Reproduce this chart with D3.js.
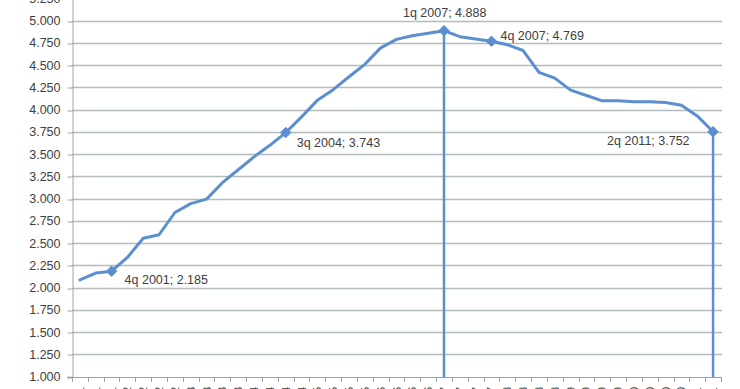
<!DOCTYPE html>
<html>
<head>
<meta charset="utf-8">
<script src="https://cdn.jsdelivr.net/npm/d3@7"></script>
<style>
  body { margin: 0; background: #fff; }
  #chart { width: 740px; height: 389px; overflow: hidden; }
  text { font-family: "Liberation Sans", Arial, sans-serif; fill: #404040; }
</style>
</head>
<body>
<div id="chart"></div>
<script>
// quarters, 2q 2001 .. 2q 2011
const quarters = [
  "2q 2001", "3q 2001", "4q 2001",
  "1q 2002", "2q 2002", "3q 2002", "4q 2002",
  "1q 2003", "2q 2003", "3q 2003", "4q 2003",
  "1q 2004", "2q 2004", "3q 2004", "4q 2004",
  "1q 2005", "2q 2005", "3q 2005", "4q 2005",
  "1q 2006", "2q 2006", "3q 2006", "4q 2006",
  "1q 2007", "2q 2007", "3q 2007", "4q 2007",
  "1q 2008", "2q 2008", "3q 2008", "4q 2008",
  "1q 2009", "2q 2009", "3q 2009", "4q 2009",
  "1q 2010", "2q 2010", "3q 2010", "4q 2010",
  "1q 2011", "2q 2011"
];

const values = [
  2.087, 2.165, 2.185,
  2.34, 2.555, 2.595, 2.845,
  2.945, 2.995, 3.18, 3.325,
  3.47, 3.60, 3.743, 3.92,
  4.105, 4.225, 4.37, 4.51,
  4.695, 4.79, 4.83, 4.86,
  4.888, 4.82, 4.795, 4.769,
  4.73, 4.665, 4.42, 4.355,
  4.22, 4.16, 4.10, 4.10,
  4.09, 4.09, 4.08, 4.05,
  3.93, 3.752
];

// points that get a marker and a data label
const labelled = ["4q 2001", "3q 2004", "1q 2007", "4q 2007", "2q 2011"];
// points with a drop line to the axis
const dropped = ["1q 2007", "2q 2011"];

const yTicks = [1, 1.25, 1.5, 1.75, 2, 2.25, 2.5, 2.75, 3, 3.25, 3.5, 3.75, 4, 4.25, 4.5, 4.75, 5, 5.25];

const data = quarters.map((q, i) => ({ q: q, v: values[i] }));

const width = 740, height = 389;
const blue = "#5b8fcf";

const svg = d3.select("#chart")
  .append("svg")
  .attr("width", width)
  .attr("height", height);

const x = d3.scaleBand().domain(quarters).range([72, 721]).padding(0);
const y = d3.scaleLinear().domain([1, 5.25]).range([376.7, -1.55]);
const cx = (d) => x(d.q) + x.bandwidth() / 2;

// gridlines

svg.append("g")
  .selectAll("line")
  .data(yTicks.slice(1))
  .join("line")
  .attr("x1", 72).attr("x2", 722)
  .attr("y1", (d) => Math.round(y(d)) + 0.5)
  .attr("y2", (d) => Math.round(y(d)) + 0.5)
  .attr("stroke", "#b3bcbc")
  .attr("stroke-width", 1.3);

// y axis

const yAxis = svg.append("g")
  .attr("transform", "translate(72.5,0)")
  .call(d3.axisLeft(y).tickValues(yTicks).tickSize(5).tickPadding(7)
    .tickFormat(d3.format(".3f")));
yAxis.select(".domain").attr("stroke", "#9aa4a4");
yAxis.selectAll(".tick line").attr("stroke", "#9aa4a4")
  .attr("transform", (d) => "translate(0," + (Math.round(y(d)) + 0.5 - y(d)) + ")");
yAxis.selectAll(".tick text")
  .style("font-size", "12.5px")
  .attr("fill", "#404040");

// x axis with ticks between categories

const xAxis = svg.append("g");
xAxis.append("line")
  .attr("x1", 67).attr("x2", 722)
  .attr("y1", 377.5).attr("y2", 377.5)
  .attr("stroke", "#9aa4a4");
xAxis.selectAll(".xt")
  .data(quarters.map((q) => x(q)).concat([x.range()[1]]))
  .join("line")
  .attr("class", "xt")
  .attr("x1", (d) => Math.round(d) + 0.5).attr("x2", (d) => Math.round(d) + 0.5)
  .attr("y1", 377).attr("y2", 382)
  .attr("stroke", "#9aa4a4");
xAxis.selectAll("text")
  .data(data)
  .join("text")
  .attr("transform", (d) => "translate(" + (cx(d) + 4) + ",387) rotate(-90)")
  .attr("text-anchor", "end")
  .style("font-size", "11px")
  .text((d) => d.q);

// drop lines

svg.append("g")
  .selectAll("line")
  .data(data.filter((d) => dropped.includes(d.q)))
  .join("line")
  .attr("x1", cx).attr("x2", cx)
  .attr("y1", (d) => y(d.v)).attr("y2", 377)
  .attr("stroke", blue)
  .attr("stroke-width", 2.5);

// line

const line = d3.line().x(cx).y((d) => y(d.v));

svg.append("path")
  .datum(data)
  .attr("d", line)
  .attr("fill", "none")
  .attr("stroke", blue)
  .attr("stroke-width", 3)
  .attr("stroke-linejoin", "round")
  .attr("stroke-linecap", "round");

// markers

const marks = data.filter((d) => labelled.includes(d.q));

svg.append("g")
  .selectAll("path")
  .data(marks)
  .join("path")
  .attr("transform", (d) => "translate(" + cx(d) + "," + y(d.v) + ")")
  .attr("d", d3.symbol(d3.symbolDiamond2, 70))
  .attr("fill", blue)
  .attr("stroke", blue)
  .attr("stroke-width", 1);

// data labels

const labelPos = {
  "4q 2001": [13, 8],
  "3q 2004": [11, 10],
  "1q 2007": [-41, -18],
  "4q 2007": [9, -6],
  "2q 2011": [-106, 9]
};

svg.append("g")
  .selectAll("text")
  .data(marks)
  .join("text")
  .attr("x", (d) => cx(d) + labelPos[d.q][0])
  .attr("y", (d) => y(d.v) + labelPos[d.q][1])
  .attr("dy", "0.35em")
  .style("font-size", "12.5px")
  .text((d) => d.q + "; " + d3.format(".3f")(d.v));
</script>
</body>
</html>
